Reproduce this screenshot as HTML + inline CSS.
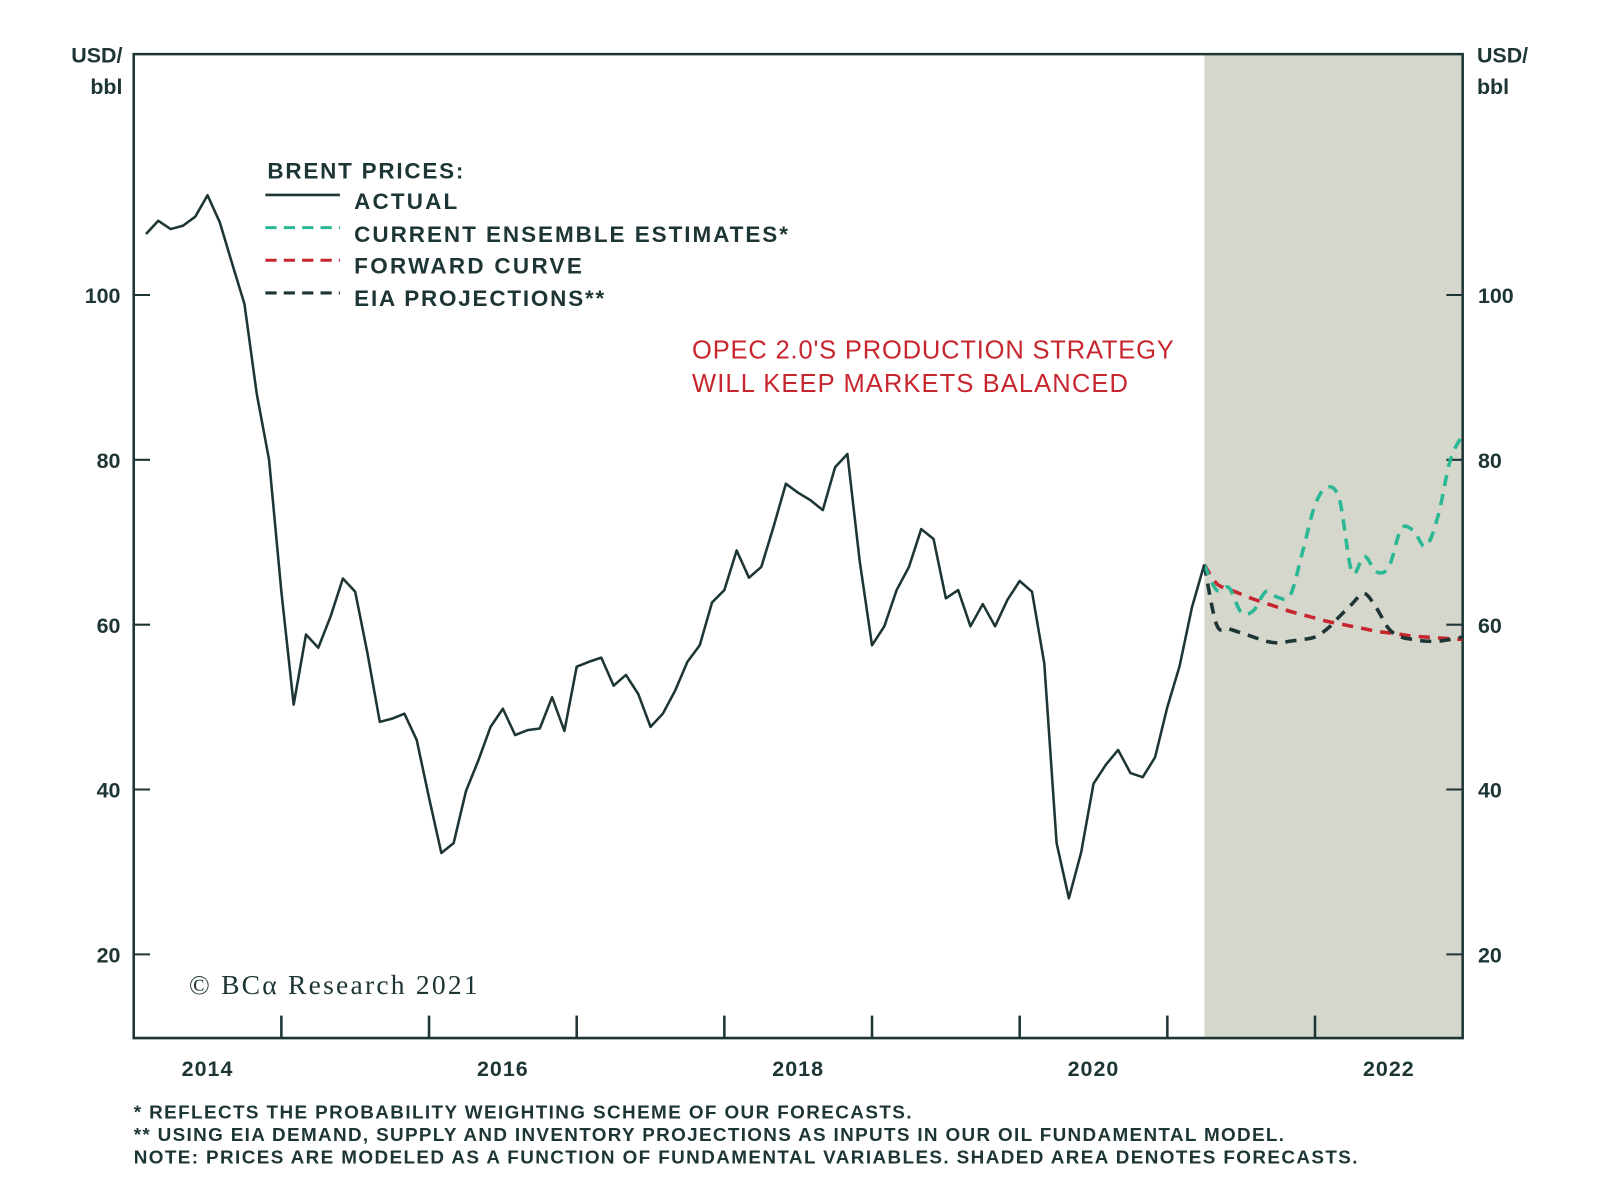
<!DOCTYPE html>
<html><head><meta charset="utf-8"><style>
body{margin:0;background:#fff;}
svg{display:block;font-family:"Liberation Sans",sans-serif;}
</style></head><body>
<svg id="chart" width="1600" height="1195" viewBox="0 0 1600 1195">
<g transform="scale(1.0207)">
<rect x="1180" y="53" width="253" height="964" fill="#d5d6cc"/>
<g id="axes"></g>
<g id="series"></g>
<g font-weight="bold" fill="#1d3535" font-size="22">
<text x="262" y="175" textLength="192">BRENT PRICES:</text>
<line x1="260" y1="191" x2="333" y2="191" stroke="#1d3535" stroke-width="2.5"/>
<text x="347" y="205" textLength="101">ACTUAL</text>
<line x1="260" y1="223" x2="333" y2="223" stroke="#2bb894" stroke-width="3" stroke-dasharray="11,7"/>
<text x="347" y="237" textLength="425">CURRENT ENSEMBLE ESTIMATES*</text>
<line x1="260" y1="255" x2="333" y2="255" stroke="#c8262f" stroke-width="3" stroke-dasharray="11,7"/>
<text x="347" y="268" textLength="223">FORWARD CURVE</text>
<line x1="260" y1="287" x2="333" y2="287" stroke="#1d3535" stroke-width="3" stroke-dasharray="11,7"/>
<text x="347" y="300" textLength="245">EIA PROJECTIONS**</text>
</g>
<g fill="#c8262f" font-size="25">
<text x="678" y="351" textLength="472">OPEC 2.0'S PRODUCTION STRATEGY</text>
<text x="678" y="384" textLength="427">WILL KEEP MARKETS BALANCED</text>
</g>
<text x="185" y="974" textLength="283" font-family="Liberation Serif,serif" font-size="27" fill="#1d3535">© BCα Research 2021</text>
<g font-weight="bold" fill="#1d3535" font-size="21">
<text x="120" y="61" text-anchor="end">USD/</text>
<text x="120" y="92" text-anchor="end">bbl</text>
<text x="1447" y="61">USD/</text>
<text x="1447" y="92">bbl</text>
</g>
<g font-weight="bold" fill="#1d3535" font-size="18.5">
<text x="131" y="1096" textLength="762">*  REFLECTS THE PROBABILITY WEIGHTING SCHEME OF OUR FORECASTS.</text>
<text x="131" y="1118" textLength="1127">** USING EIA DEMAND, SUPPLY AND INVENTORY PROJECTIONS AS INPUTS IN OUR OIL FUNDAMENTAL MODEL.</text>
<text x="131" y="1140" textLength="1199">NOTE: PRICES ARE MODELED AS A FUNCTION OF FUNDAMENTAL VARIABLES. SHADED AREA DENOTES FORECASTS.</text>
</g>
</g>
</svg>
<script>
const actual=[107.4,109,108,108.4,109.5,112.1,108.8,103.8,98.9,88,80,64,
50.3,58.8,57.2,61,65.6,64,56.5,48.2,48.6,49.2,46,39,
32.3,33.5,39.8,43.5,47.6,49.8,46.6,47.2,47.4,51.2,47.1,54.9,
55.5,56,52.6,53.9,51.6,47.6,49.2,52,55.5,57.5,62.7,64.2,
69,65.7,67,71.9,77.1,76,75.1,73.9,79.1,80.7,67.7,57.5,
59.8,64.2,67,71.6,70.4,63.2,64.2,59.8,62.5,59.8,63,65.3,
64,55.3,33.5,26.8,32.4,40.7,43,44.8,42,41.5,43.9,50,
55,62.1,67.3];
const ensemble=[67.3,64.2,64.5,61.5,61.7,64,63.3,63.6,68.9,74.5,76.7,75.1,66.4,68.3,66.4,67,71.6,71.4,69.5,73.2,80,83];
const forward=[67.3,65.0,64.3,63.7,63.1,62.6,62.1,61.6,61.2,60.8,60.4,60.1,59.8,59.5,59.2,59.0,58.8,58.6,58.5,58.4,58.3,58.2];
const eia=[67.3,60,59.5,59,58.5,58,57.8,58,58.2,58.5,59.5,61,62.5,63.8,62,59.5,58.5,58.2,58,58,58.2,58.5];
const yTicks=[20,40,60,80,100];
const xLabels=["2014","2016","2018","2020","2022"];
const NS="http://www.w3.org/2000/svg";
const L=131,R=1433,T=53,B=1017;
const x=t=>L+(t-2014)*(R-L)/9;
const y=v=>289-(v-100)*8.075;
const tOf=i=>2014+(i+1)/12;
const C="#1d3535";
function mk(tag,attrs,parent){const e=document.createElementNS(NS,tag);for(const k in attrs)e.setAttribute(k,attrs[k]);parent.appendChild(e);return e;}
const ax=document.getElementById('axes'),sr=document.getElementById('series');
let fr=mk('path',{d:`M${L},${T}H${R}V${B}H${L}Z`,fill:'none',stroke:C,'stroke-width':2.5},ax);


yTicks.forEach(v=>{
 mk('line',{x1:L,x2:L+16,y1:y(v),y2:y(v),stroke:C,'stroke-width':2},ax);
 mk('line',{x1:R-16,x2:R,y1:y(v),y2:y(v),stroke:C,'stroke-width':2},ax);
 let a=mk('text',{x:118,y:y(v)+8,'text-anchor':'end','font-size':21,'font-weight':'bold',fill:C},ax);a.textContent=v;
 
 
 let b=mk('text',{x:1448,y:y(v)+8,'font-size':21,'font-weight':'bold',fill:C},ax);b.textContent=v;
 
 
});
for(let yr=2015;yr<=2022;yr++){mk('line',{x1:x(yr),x2:x(yr),y1:B-22,y2:B,stroke:C,'stroke-width':2.5},ax);}
xLabels.forEach(s=>{let t=mk('text',{x:x(+s+0.5),y:1054,'text-anchor':'middle','font-size':21,'font-weight':'bold',fill:C,'letter-spacing':1},ax);t.textContent=s;
 
 });
function smooth(p){let d=`M${p[0][0]},${p[0][1]}`;for(let i=0;i<p.length-1;i++){const p0=p[i-1]||p[i],p1=p[i],p2=p[i+1],p3=p[i+2]||p2;
 d+=`C${p1[0]+(p2[0]-p0[0])/6},${p1[1]+(p2[1]-p0[1])/6} ${p2[0]-(p3[0]-p1[0])/6},${p2[1]-(p3[1]-p1[1])/6} ${p2[0]},${p2[1]}`;}return d;}
const start=actual.length-1;
const fpts=arr=>arr.map((v,i)=>[x(tOf(start+i)),y(v)]);
[[forward,'#c8262f','forward-curve-line'],[eia,C,'eia-projections-line'],[ensemble,'#2bb894','ensemble-estimates-line']].forEach(([arr,col,n])=>{
 let p=mk('path',{d:smooth(fpts(arr)),fill:'none',stroke:col,'stroke-width':3.5,'stroke-dasharray':'11,8'},sr);
 
 
});
let a=mk('polyline',{points:actual.map((v,i)=>x(tOf(i))+','+y(v)).join(' '),fill:'none',stroke:C,'stroke-width':2.5,'stroke-linejoin':'round'},sr);


</script>
</body></html>
